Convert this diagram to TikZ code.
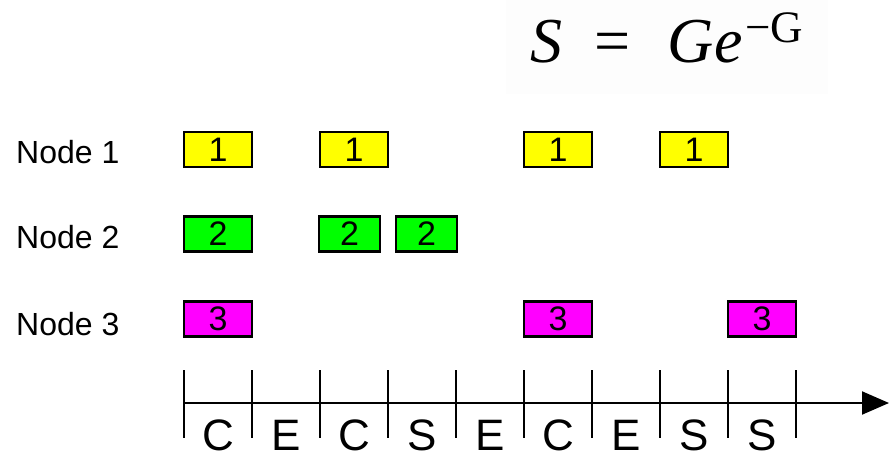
\documentclass[tikz,border=0pt]{standalone}
\usepackage{fontspec}
\setmainfont{Liberation Sans}
\newfontfamily\timesfont{Liberation Serif}
\usetikzlibrary{arrows.meta}
\tikzset{
  slot/.style={draw=black, line width=2.2pt, inner sep=0pt, minimum height=35pt,
    font=\fontsize{34}{34}\selectfont},
  slotA/.style={slot, fill={rgb,255:red,255;green,255;blue,0}},
  slotB/.style={slot, fill={rgb,255:red,0;green,255;blue,0}},
  slotC/.style={slot, fill={rgb,255:red,255;green,0;blue,255}},
  rowlabel/.style={anchor=base west, inner sep=0pt, font=\fontsize{32}{32}\selectfont},
  phase/.style={anchor=base, inner sep=0pt, font=\fontsize{44}{44}\selectfont},
  tick/.style={line width=2pt},
  formula/.style={anchor=base west, inner sep=0pt, font=\timesfont\fontsize{64}{64}\selectfont},
  formsup/.style={anchor=base west, inner sep=0pt, font=\timesfont\fontsize{45}{45}\selectfont},
}
\begin{document}
\begin{tikzpicture}[x=1pt,y=-1pt]
\useasboundingbox (0,0) rectangle (889,455);
% faint formula background
\fill[black!0.8] (506,0) rectangle (828,94);
% formula
\node[formula] (fs) at (530,62) {\itshape S};
\node[formula] (feq) at (594,62) {=};
\node[formula] (fg) at (667,62) {\itshape G};
\node[formula] (fe) at (714,62) {\itshape e};
\node[formsup] (fsup) at (745,42) {−G};
% row labels
\node[rowlabel] (n1) at (16,163) {Node 1};
\node[rowlabel] (n2) at (16,248) {Node 2};
\node[rowlabel] (n3) at (16,335) {Node 3};
% node 1 slots
\node[slotA, minimum width=68pt] (a1) at (218,149.5) {1};
\node[slotA, minimum width=68pt] (a2) at (354,149.5) {1};
\node[slotA, minimum width=68pt] (a3) at (558,149.5) {1};
\node[slotA, minimum width=68pt] (a4) at (694,149.5) {1};
% node 2 slots
\node[slotB, minimum width=68pt] (b1) at (218,234) {2};
\node[slotB, minimum width=61pt] (b2) at (349.5,234) {2};
\node[slotB, minimum width=61pt] (b3) at (426.5,234) {2};
% node 3 slots
\node[slotC, minimum width=68pt] (c1) at (218,319) {3};
\node[slotC, minimum width=68pt] (c2) at (558,319) {3};
\node[slotC, minimum width=68pt] (c3) at (762,319) {3};
% axis
\coordinate (ax0) at (184,403);
\coordinate (ax1) at (889,403);
\draw[line width=2pt, -{Triangle[length=27pt,width=23pt]}] (ax0) -- (ax1);
\foreach \x in {184,252,320,388,456,524,592,660,728,796}{
  \draw[tick] (\x,370) -- (\x,438);
}
\foreach \x/\t [count=\i] in {218/C,286/E,354/C,422/S,490/E,558/C,626/E,694/S,762/S}{
  \node[phase] (p\i) at (\x,450) {\t};
}
\end{tikzpicture}
\end{document}
